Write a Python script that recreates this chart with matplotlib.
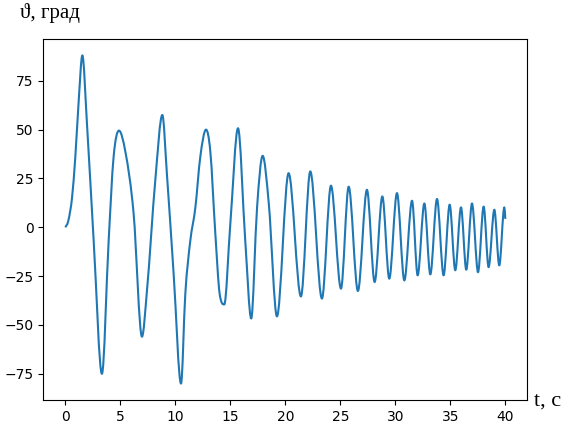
import matplotlib
matplotlib.use("Agg")
import matplotlib.pyplot as plt
from matplotlib.path import Path
from matplotlib.patches import PathPatch

# points: time, s and angle, deg
t_pts = [0.0, 0.24, 0.45, 0.61, 0.91, 1.21, 1.55, 1.97, 2.58, 3.33,
         3.94, 4.39, 4.88, 5.45, 6.21, 6.97, 7.43, 8.18, 8.82, 9.24,
         9.85, 10.52, 10.91, 11.36, 11.82, 12.27, 12.79, 13.18, 13.64, 14.03,
         14.45, 15.0, 15.7, 16.36, 16.9, 17.43, 17.94, 18.5, 19.24, 20.3,
         21.42, 22.27, 23.33, 24.15, 25.06, 25.76, 26.6, 27.42, 28.12, 28.82,
         29.45, 30.15, 30.82, 31.52, 32.03, 32.64, 33.18, 33.79, 34.39, 34.94,
         35.45, 35.97, 36.45, 36.97, 37.52, 38.03, 38.48, 39.0, 39.45, 39.91,
         40.0]
theta_pts = [0.0, 2.6, 8.5, 15.0, 36.0, 64.0, 88.0, 53.0, -7.0, -75.0,
             -7.0, 36.0, 49.5, 39.0, 7.0, -56.0, -32.0, 24.0, 57.5, 27.0,
             -24.0, -80.0, -34.0, -7.0, 10.0, 36.0, 50.0, 39.0, -3.4, -34.0,
             -39.5, 1.7, 50.7, -7.0, -46.7, 10.0, 36.6, 12.0, -45.6, 27.7,
             -35.4, 28.6, -36.5, 21.3, -31.4, 20.8, -32.6, 19.2, -28.0, 15.8,
             -26.3, 17.5, -27.2, 13.6, -24.6, 12.2, -24.1, 14.5, -24.6, 11.6,
             -22.0, 10.2, -21.7, 12.2, -23.0, 10.6, -20.4, 9.0, -19.5, 10.2,
             4.3]


def slopes(t, y):
    # monotone (Fritsch-Carlson) tangents, flat at the turning points
    n = len(t)
    m = []
    for i in range(n):
        if i == 0:
            m.append((y[1] - y[0]) / (t[1] - t[0]))
        elif i == n - 1:
            m.append((y[-1] - y[-2]) / (t[-1] - t[-2]))
        else:
            d0 = (y[i] - y[i - 1]) / (t[i] - t[i - 1])
            d1 = (y[i + 1] - y[i]) / (t[i + 1] - t[i])
            if d0 * d1 <= 0:
                m.append(0.0)
            else:
                s = (d0 + d1) / 2
                lim = 3 * min(abs(d0), abs(d1))
                if abs(s) > lim:
                    s = lim if s > 0 else -lim
                m.append(s)
    return m


def smooth_path(t, y):
    m = slopes(t, y)
    verts = [(t[0], y[0])]
    codes = [Path.MOVETO]
    for i in range(len(t) - 1):
        h = t[i + 1] - t[i]
        verts.append((t[i] + h / 3, y[i] + m[i] * h / 3))
        verts.append((t[i + 1] - h / 3, y[i + 1] - m[i + 1] * h / 3))
        verts.append((t[i + 1], y[i + 1]))
        codes += [Path.CURVE4] * 3
    return Path(verts, codes)


fig = plt.figure(figsize=(5.72, 4.38), dpi=100)
ax = fig.add_axes([0.0757, 0.0868, 0.8462, 0.8242])

patch = PathPatch(smooth_path(t_pts, theta_pts), facecolor='none',
                  edgecolor='#1f77b4', linewidth=1.5, joinstyle='round')
ax.add_patch(patch)

x_span = max(t_pts) - min(t_pts)
y_span = max(theta_pts) - min(theta_pts)
ax.set_xlim(min(t_pts) - 0.05 * x_span, max(t_pts) + 0.05 * x_span)
ax.set_ylim(min(theta_pts) - 0.05 * y_span, max(theta_pts) + 0.05 * y_span)
ax.set_xticks([0, 5, 10, 15, 20, 25, 30, 35, 40])
ax.set_yticks([-75, -50, -25, 0, 25, 50, 75])

serif = ['Liberation Serif', 'DejaVu Serif']
fig.text(0.035, 0.959, 'ϑ, град', family=serif, fontsize=15, va='baseline')
fig.text(0.934, 0.073, 't, с', family=serif, fontsize=16, va='baseline')

fig.savefig('out.png', dpi=100)
